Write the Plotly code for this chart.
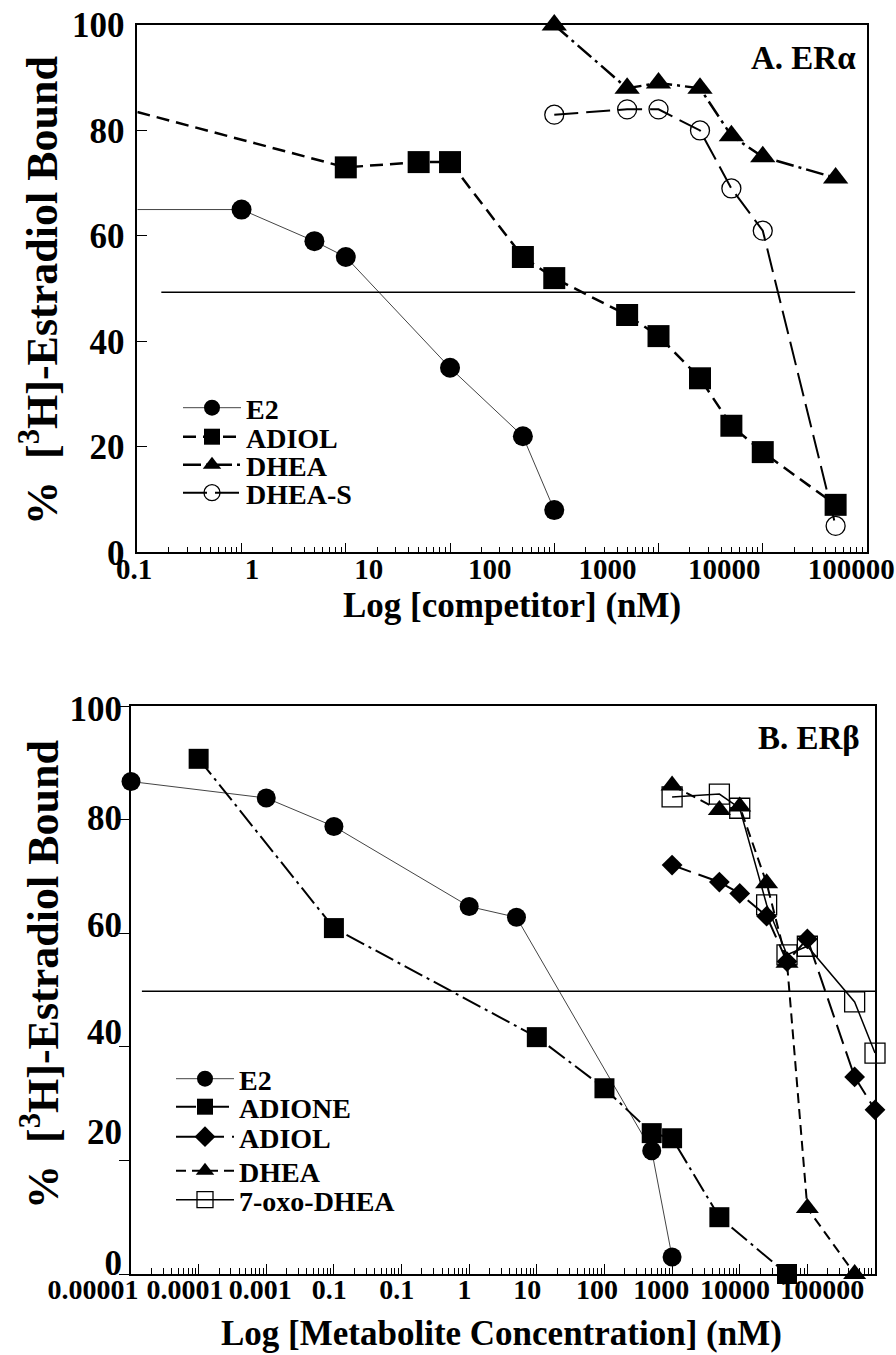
import plotly.graph_objects as go

W, H = 896, 1355
FONT = "Liberation Serif"

# ---------------- Panel A (ER alpha) data ----------------
a_e2_x = [0.1, 1, 5, 10, 100, 500, 1000]
a_e2_y = [65, 65, 59, 56, 35, 22, 8]
a_adiol_x = [0.1, 10, 50, 100, 500, 1000, 5000, 10000, 25000, 50000, 100000, 500000]
a_adiol_y = [83.5, 73, 74, 74, 56, 52, 45, 41, 33, 24, 19, 9]
a_dhea_x = [1000, 5000, 10000, 25000, 50000, 100000, 500000]
a_dhea_y = [100, 88, 89, 88, 79, 75, 71]
a_dheas_x = [1000, 5000, 10000, 25000, 50000, 100000, 500000]
a_dheas_y = [83, 84, 84, 80, 69, 61, 5]
a_half_x = [0.17, 770000]
a_half_y = [49.3, 49.3]

a_xtick_text = ["0.1", "1", "10", "100", "1000", "10000", "100000"]
a_xtick_log = [-1.03, 0.10, 1.22, 2.38, 3.51, 4.63, 5.85]
a_yticks = [0, 20, 40, 60, 80, 100]

# ---------------- Panel B (ER beta) data ----------------
b_e2_x = [1e-5, 1e-3, 0.01, 1, 5, 500, 1000]
b_e2_y = [86.7, 83.8, 78.8, 64.7, 62.8, 21.7, 3.0]
b_adione_x = [1e-4, 0.01, 10, 100, 500, 1000, 5000, 50000]
b_adione_y = [90.7, 60.9, 41.7, 32.7, 24.8, 23.9, 10.0, 0]
b_adiol_x = [1000, 5000, 10000, 25000, 50000, 100000, 500000, 1000000]
b_adiol_y = [72, 69, 67, 63, 55, 59, 34.7, 28.9]
b_dhea_x = [1000, 5000, 10000, 25000, 50000, 100000, 500000]
b_dhea_y = [86, 81.7, 82.3, 68.8, 54.8, 11.6, 0]
b_oxo_x = [1000, 5000, 10000, 25000, 50000, 100000, 500000, 1000000]
b_oxo_y = [84, 84.5, 82, 65, 56.2, 57.7, 47.9, 38.9]
b_half_x = [1.45e-5, 1e6]
b_half_y = [49.8, 49.8]

b_xtick_text = ["0.00001", "0.0001", "0.001", "0.1", "0.1", "1", "10",
                "100", "1000", "10000", "100000"]
b_xtick_log = [-5.56, -4.20, -3.09, -2.07, -1.07, -0.07, 0.86, 1.89, 2.84, 3.93, 5.22]
b_yticks = [0, 20, 40, 60, 80, 100]
b_ylabel_text = ["0", "20", "40", "60", "80", "100"]
b_ylabel_pos = [1.9, 25.0, 42.6, 61.5, 80.3, 99.5]

# ---------------- layout geometry (pixels) ----------------
A_L, A_R, A_T, A_B = 137.3, 867, 25, 552.3
B_L, B_R, B_T, B_B = 131, 875, 706, 1274
A_RANGE = [-1, 6]
B_RANGE = [-5, 6]


def xdom(l, r):
    return [l / W, r / W]


def ydom(t, b):
    return [1 - b / H, 1 - t / H]


def full_width_range(dom, rng):
    per = (rng[1] - rng[0]) / (dom[1] - dom[0])
    return [rng[0] - dom[0] * per, rng[1] + (1 - dom[1]) * per]


fig = go.Figure()


def add(x, y, name, xa, ya, legend, symbol, msize, dash, lw, color="black",
        sizes=None, mline=0):
    fig.add_trace(go.Scatter(
        x=x, y=y, name=name, xaxis=xa, yaxis=ya, legend=legend,
        mode="lines+markers", cliponaxis=False,
        line=dict(color=color, width=lw, dash=dash),
        marker=dict(symbol=symbol, size=sizes if sizes else msize, color="black",
                    opacity=1, line=dict(color="black", width=mline)),
    ))


# Panel A traces
add(a_e2_x, a_e2_y, "E2", "x", "y", "legend", "circle", 20, "solid", 1, color="#444",
    sizes=[0] + [20] * (len(a_e2_x) - 1))
add(a_adiol_x, a_adiol_y, "ADIOL", "x", "y", "legend2", "square", 22, "13px,7px", 2.5,
    sizes=[0] + [22] * (len(a_adiol_x) - 1))
add(a_dhea_x, a_dhea_y, "DHEA", "x", "y", "legend3", "triangle-up", 22,
    "18px,5px,3px,5px", 2.5)
add(a_dheas_x, a_dheas_y, "DHEA-S", "x", "y", "legend4", "circle-open", 19, "24px,8px", 2,
    mline=1.3)
fig.add_trace(go.Scatter(x=a_half_x, y=a_half_y, mode="lines", showlegend=False,
                         xaxis="x", yaxis="y", line=dict(color="black", width=1.5)))

# Panel B traces
add(b_e2_x, b_e2_y, "E2", "x2", "y2", "legend5", "circle", 19, "solid", 1, color="#444")
add(b_adione_x, b_adione_y, "ADIONE", "x2", "y2", "legend6", "square", 20,
    "20px,5px,3px,5px", 2)
add(b_adiol_x, b_adiol_y, "ADIOL", "x2", "y2", "legend7", "diamond", 16, "20px,8px", 2)
add(b_dhea_x, b_dhea_y, "DHEA", "x2", "y2", "legend8", "triangle-up", 20, "10px,6px", 2)
add(b_oxo_x, b_oxo_y, "7-oxo-DHEA", "x2", "y2", "legend9", "square-open", 20, "solid", 1.5,
    mline=1.3)
fig.add_trace(go.Scatter(x=b_half_x, y=b_half_y, mode="lines", showlegend=False,
                         xaxis="x2", yaxis="y2", line=dict(color="black", width=1.5)))

# empty traces so that the label-only axes get their subplots
for xa, ya in (("x3", "y"), ("x4", "y2"), ("x2", "y3")):
    fig.add_trace(go.Scatter(x=[None], y=[None], xaxis=xa, yaxis=ya, mode="markers",
                             showlegend=False, hoverinfo="skip"))

tick_font = dict(family=FONT, size=35, color="black", weight="bold")
xl_font = dict(family=FONT, size=29, color="black", weight="bold")


def minor_log(lo, hi):
    return [m * 10 ** e for e in range(lo, hi) for m in range(2, 10)]


axis_common = dict(showgrid=False, zeroline=False, showline=True, linecolor="black",
                   linewidth=1.5, mirror=True, automargin=False)

layout = dict(
    width=W, height=H, margin=dict(l=0, r=0, t=0, b=0, pad=0, autoexpand=False),
    paper_bgcolor="white", plot_bgcolor="rgba(0,0,0,0)",
    showlegend=True,
    xaxis=dict(domain=xdom(A_L, A_R), type="log", range=A_RANGE, anchor="y",
               tickmode="array", tickvals=[10 ** e for e in range(A_RANGE[0], A_RANGE[1] + 1)],
               ticks="inside", ticklen=10, tickwidth=1, tickcolor="black",
               showticklabels=False,
               minor=dict(tickmode="array", tickvals=minor_log(A_RANGE[0], A_RANGE[1]),
                          ticks="inside", ticklen=6, tickwidth=1, tickcolor="black"),
               **axis_common),
    yaxis=dict(domain=ydom(A_T, A_B), range=[0, 100], anchor="x",
               tickmode="array", tickvals=a_yticks, ticks="inside", ticklen=10,
               tickwidth=1, tickcolor="black", tickfont=tick_font, ticklabelstandoff=4,
               **axis_common),
    xaxis3=dict(domain=[0, 1], type="log", anchor="y", automargin=False,
                range=full_width_range(xdom(A_L, A_R), A_RANGE),
                tickmode="array", tickvals=[10 ** v for v in a_xtick_log],
                ticktext=a_xtick_text, ticks="", showline=False, showgrid=False,
                zeroline=False, tickfont=xl_font, ticklabelstandoff=-3),
    xaxis2=dict(domain=xdom(B_L, B_R), type="log", range=B_RANGE, anchor="y2",
                tickmode="array", tickvals=[10 ** e for e in range(B_RANGE[0], B_RANGE[1] + 1)],
                ticks="inside", ticklen=10, tickwidth=1, tickcolor="black",
                showticklabels=False,
                minor=dict(tickmode="array", tickvals=minor_log(B_RANGE[0], B_RANGE[1]),
                           ticks="inside", ticklen=6, tickwidth=1, tickcolor="black"),
                **axis_common),
    yaxis2=dict(domain=ydom(B_T, B_B), range=[0, 100], anchor="x2",
                tickmode="array", tickvals=b_yticks, ticks="outside", ticklen=10,
                tickwidth=1, tickcolor="black", showticklabels=False,
                **axis_common),
    yaxis3=dict(overlaying="y2", anchor="x2", side="left", range=[0, 100],
                automargin=False,
                tickmode="array", tickvals=b_ylabel_pos, ticktext=b_ylabel_text,
                ticks="", showline=False, showgrid=False, zeroline=False,
                tickfont=tick_font, ticklabelstandoff=8),
    xaxis4=dict(domain=[0, 1], type="log", anchor="y2", automargin=False,
                range=full_width_range(xdom(B_L, B_R), B_RANGE),
                tickmode="array", tickvals=[10 ** v for v in b_xtick_log],
                ticktext=b_xtick_text, ticks="", showline=False, showgrid=False,
                zeroline=False, tickfont=dict(family=FONT, size=28, color="black",
                                              weight="bold"), ticklabelstandoff=-4),
)

# individual legends, one per entry, positioned like the original key
leg_font = dict(family=FONT, size=28, color="black", weight="bold")
leg_rows = [(178, 408), (178, 437), (178, 465), (178, 493),
            (171, 1079), (171, 1107), (171, 1137), (171, 1171), (171, 1200)]
leg_names = ["legend"] + ["legend%d" % i for i in range(2, 10)]
for nm, (lx, ly) in zip(leg_names, leg_rows):
    layout[nm] = dict(x=lx / W, y=1 - ly / H, xanchor="left", yanchor="middle",
                      font=leg_font, bgcolor="rgba(0,0,0,0)", borderwidth=0,
                      itemwidth=58, tracegroupgap=0)

ann = []
ann.append(dict(text="A. ERα", x=858 / W, y=1 - 58 / H, xref="paper", yref="paper",
                xanchor="right", yanchor="middle", showarrow=False,
                font=dict(family=FONT, size=33, color="black", weight="bold")))
ann.append(dict(text="B. ERβ", x=862 / W, y=1 - 738 / H, xref="paper", yref="paper",
                xanchor="right", yanchor="middle", showarrow=False,
                font=dict(family=FONT, size=33, color="black", weight="bold")))
ytitle = "%  [<sup>3</sup>H]-Estradiol Bound"
for cy in (291, 975):
    ann.append(dict(text=ytitle, x=40 / W, y=1 - cy / H, xref="paper", yref="paper",
                    xanchor="center", yanchor="middle", textangle=-90, showarrow=False,
                    font=dict(family=FONT, size=44, color="black", weight="bold")))
ann.append(dict(text="Log [competitor] (nM)", x=512 / W, y=1 - 606 / H, xref="paper",
                yref="paper", xanchor="center", yanchor="middle", showarrow=False,
                font=dict(family=FONT, size=35, color="black", weight="bold")))
ann.append(dict(text="Log [Metabolite Concentration] (nM)", x=502 / W, y=1 - 1333 / H,
                xref="paper", yref="paper", xanchor="center", yanchor="middle",
                showarrow=False,
                font=dict(family=FONT, size=35, color="black", weight="bold")))
layout["annotations"] = ann

fig.update_layout(**layout)
fig.write_html("out.html")
